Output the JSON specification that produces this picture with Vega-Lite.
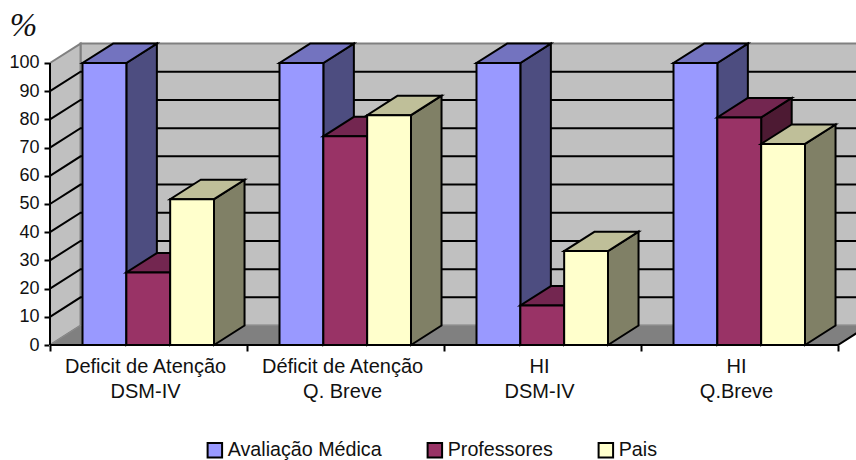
{
  "$schema": "https://vega.github.io/schema/vega-lite/v6.json",
  "width": 806,
  "height": 302,
  "padding": {"left": 50, "top": 43, "right": 0, "bottom": 115},
  "autosize": {"type": "none"},
  "background": "white",
  "config": {"view": {"stroke": null}, "font": "Liberation Sans", "axis": {"labelOverlap": false}},
  "data": {"values": [
    {"grupo": 0, "categoria": "Deficit de Atenção\nDSM-IV", "serie": "Avaliação Médica", "valor": 100},
    {"grupo": 0, "categoria": "Deficit de Atenção\nDSM-IV", "serie": "Professores", "valor": 25.7},
    {"grupo": 0, "categoria": "Deficit de Atenção\nDSM-IV", "serie": "Pais", "valor": 51.7},
    {"grupo": 1, "categoria": "Déficit de Atenção\nQ. Breve", "serie": "Avaliação Médica", "valor": 100},
    {"grupo": 1, "categoria": "Déficit de Atenção\nQ. Breve", "serie": "Professores", "valor": 74},
    {"grupo": 1, "categoria": "Déficit de Atenção\nQ. Breve", "serie": "Pais", "valor": 81.5},
    {"grupo": 2, "categoria": "HI\nDSM-IV", "serie": "Avaliação Médica", "valor": 100},
    {"grupo": 2, "categoria": "HI\nDSM-IV", "serie": "Professores", "valor": 14},
    {"grupo": 2, "categoria": "HI\nDSM-IV", "serie": "Pais", "valor": 33.3},
    {"grupo": 3, "categoria": "HI\nQ.Breve", "serie": "Avaliação Médica", "valor": 100},
    {"grupo": 3, "categoria": "HI\nQ.Breve", "serie": "Professores", "valor": 80.7},
    {"grupo": 3, "categoria": "HI\nQ.Breve", "serie": "Pais", "valor": 71.3}
  ]},
  "transform": [
    {"calculate": "indexof(['Avaliação Médica','Professores','Pais'], datum.serie)", "as": "s"},
    {"calculate": "datum.grupo + 0.165 + datum.s * 0.2225", "as": "x0"},
    {"calculate": "datum.x0 + 0.2225", "as": "x1"},
    {"calculate": "[0, 1]", "as": "t"},
    {"flatten": ["t"]},
    {"calculate": "datum.x1 + datum.t * 0.155", "as": "ladoX"},
    {"calculate": "datum.valor + datum.t * 6.9", "as": "ladoTopo"},
    {"calculate": "datum.t * 6.9", "as": "ladoBase"},
    {"calculate": "datum.x0 + datum.t * 0.155", "as": "topoX0"},
    {"calculate": "datum.x1 + datum.t * 0.155", "as": "topoX1"}
  ],
  "layer": [
    {
      "description": "Back wall",
      "data": {"values": [{"parede": "fundo"}]},
      "transform": [],
      "mark": {"type": "rect", "fill": "#c0c0c0", "stroke": "#808080", "strokeWidth": 2},
      "encoding": {
        "x": {"datum": 0.155, "type": "quantitative", "scale": {"domain": [0, 4.0914], "nice": false, "zero": false}, "axis": {"values": [0, 1, 2, 3, 4], "labels": false, "domain": false, "grid": false, "tickSize": 6, "tickWidth": 2, "tickColor": "black", "title": null}},
        "x2": {"datum": 4.155},
        "y": {
          "datum": 6.9,
          "type": "quantitative",
          "scale": {"domain": [0, 107.09], "nice": false},
          "axis": {
            "values": [0, 10, 20, 30, 40, 50, 60, 70, 80, 90, 100],
            "tickCount": 11,
            "domain": false,
            "grid": false,
            "tickSize": 6,
            "tickWidth": 2,
            "tickColor": "black",
            "labelOverlap": false,
            "labelFont": "Liberation Sans",
            "labelFontSize": 18,
            "labelColor": "#111111",
            "labelPadding": 5,
            "title": "%",
            "titleFont": "Liberation Serif",
            "titleFontStyle": "italic",
            "titleFontWeight": "normal",
            "titleFontSize": 33,
            "titleColor": "#111111",
            "titleAngle": 0,
            "titleAlign": "center",
            "titleBaseline": "middle",
            "titleX": -27,
            "titleY": -18
          }
        },
        "y2": {"datum": 106.9}
      }
    },
    {
      "description": "Left wall",
      "data": {"values": [{"t": 0}, {"t": 1}]},
      "transform": [
        {"calculate": "datum.t * 0.155", "as": "px"},
        {"calculate": "datum.t * 6.9", "as": "pbase"},
        {"calculate": "100 + datum.t * 6.9", "as": "ptopo"}
      ],
      "mark": {"type": "area", "orient": "vertical", "fill": "#c0c0c0", "stroke": "#808080", "strokeWidth": 2},
      "encoding": {
        "x": {"field": "px", "type": "quantitative"},
        "y": {"field": "ptopo", "type": "quantitative"},
        "y2": {"field": "pbase"}
      }
    },
    {
      "description": "Floor",
      "data": {"values": [{"t": 0}, {"t": 1}]},
      "transform": [
        {"calculate": "datum.t * 0.155", "as": "p0"},
        {"calculate": "4 + datum.t * 0.155", "as": "p1"},
        {"calculate": "datum.t * 6.9", "as": "py"}
      ],
      "mark": {"type": "area", "orient": "horizontal", "fill": "#808080", "stroke": "#8c8c8c", "strokeWidth": 1},
      "encoding": {
        "y": {"field": "py", "type": "quantitative"},
        "x": {"field": "p0", "type": "quantitative"},
        "x2": {"field": "p1"}
      }
    },
    {
      "description": "Gridlines running across the left and back walls",
      "data": {"values": [{"nivel": 10}, {"nivel": 20}, {"nivel": 30}, {"nivel": 40}, {"nivel": 50}, {"nivel": 60}, {"nivel": 70}, {"nivel": 80}, {"nivel": 90}]},
      "transform": [
        {"calculate": "[0, 0.155, 4.155]", "as": "gx"},
        {"flatten": ["gx"]},
        {"calculate": "datum.nivel + (datum.gx > 0 ? 6.9 : 0)", "as": "gy"}
      ],
      "mark": {"type": "line", "stroke": "black", "strokeWidth": 2},
      "encoding": {
        "x": {"field": "gx", "type": "quantitative"},
        "y": {"field": "gy", "type": "quantitative"},
        "detail": {"field": "nivel"}
      }
    },
    {
      "description": "Front edge of the floor and its right corner",
      "data": {"values": [{"ex": 0, "ey": 0}, {"ex": 4, "ey": 0}, {"ex": 4.155, "ey": 6.9}]},
      "transform": [],
      "mark": {"type": "line", "stroke": "black", "strokeWidth": 2},
      "encoding": {
        "x": {"field": "ex", "type": "quantitative"},
        "y": {"field": "ey", "type": "quantitative"}
      }
    },
    {
      "description": "Value axis line",
      "data": {"values": [{"de": 0, "ate": 100}]},
      "transform": [],
      "mark": {"type": "rule", "stroke": "black", "strokeWidth": 2},
      "encoding": {
        "x": {"datum": 0, "type": "quantitative"},
        "y": {"field": "de", "type": "quantitative"},
        "y2": {"field": "ate"}
      }
    },
    {
      "transform": [{"filter": "datum.s === 0"}],
      "mark": {"type": "area", "orient": "vertical", "fill": "#4d4d80", "stroke": "black", "strokeWidth": 2},
      "encoding": {"x": {"field": "ladoX", "type": "quantitative"}, "y": {"field": "ladoTopo", "type": "quantitative"}, "y2": {"field": "ladoBase"}, "detail": {"field": "grupo"}}
    },
    {
      "transform": [{"filter": "datum.s === 0"}],
      "mark": {"type": "area", "orient": "horizontal", "fill": "#7373bf", "stroke": "black", "strokeWidth": 2},
      "encoding": {"y": {"field": "ladoTopo", "type": "quantitative"}, "x": {"field": "topoX0", "type": "quantitative"}, "x2": {"field": "topoX1"}, "detail": {"field": "grupo"}}
    },
    {
      "transform": [{"filter": "datum.s === 0 && datum.t === 0"}],
      "mark": {"type": "rect", "stroke": "black", "strokeWidth": 2},
      "encoding": {
        "x": {"field": "x0", "type": "quantitative"},
        "x2": {"field": "x1"},
        "y": {"field": "valor", "type": "quantitative"},
        "y2": {"datum": 0},
        "fill": {
          "field": "serie",
          "type": "nominal",
          "scale": {"domain": ["Avaliação Médica", "Professores", "Pais"], "range": ["#9999ff", "#993366", "#ffffcc"]},
          "legend": {
            "title": null,
            "orient": "none",
            "direction": "horizontal",
            "columns": 3,
            "legendX": 155,
            "legendY": 397,
            "columnPadding": 41,
            "symbolType": "square",
            "symbolSize": 210,
            "symbolStrokeColor": "black",
            "symbolStrokeWidth": 2,
            "symbolOpacity": 1,
            "labelFont": "Liberation Sans",
            "labelFontSize": 19.7,
            "labelColor": "#111111",
            "labelOffset": 3,
            "labelLimit": 300
          }
        }
      }
    },
    {
      "transform": [{"filter": "datum.s === 1"}],
      "mark": {"type": "area", "orient": "vertical", "fill": "#4d1a33", "stroke": "black", "strokeWidth": 2},
      "encoding": {"x": {"field": "ladoX", "type": "quantitative"}, "y": {"field": "ladoTopo", "type": "quantitative"}, "y2": {"field": "ladoBase"}, "detail": {"field": "grupo"}}
    },
    {
      "transform": [{"filter": "datum.s === 1"}],
      "mark": {"type": "area", "orient": "horizontal", "fill": "#732650", "stroke": "black", "strokeWidth": 2},
      "encoding": {"y": {"field": "ladoTopo", "type": "quantitative"}, "x": {"field": "topoX0", "type": "quantitative"}, "x2": {"field": "topoX1"}, "detail": {"field": "grupo"}}
    },
    {
      "transform": [{"filter": "datum.s === 1 && datum.t === 0"}],
      "mark": {"type": "rect", "stroke": "black", "strokeWidth": 2},
      "encoding": {
        "x": {"field": "x0", "type": "quantitative"},
        "x2": {"field": "x1"},
        "y": {"field": "valor", "type": "quantitative"},
        "y2": {"datum": 0},
        "fill": {"field": "serie", "type": "nominal"}
      }
    },
    {
      "transform": [{"filter": "datum.s === 2"}],
      "mark": {"type": "area", "orient": "vertical", "fill": "#808066", "stroke": "black", "strokeWidth": 2},
      "encoding": {"x": {"field": "ladoX", "type": "quantitative"}, "y": {"field": "ladoTopo", "type": "quantitative"}, "y2": {"field": "ladoBase"}, "detail": {"field": "grupo"}}
    },
    {
      "transform": [{"filter": "datum.s === 2"}],
      "mark": {"type": "area", "orient": "horizontal", "fill": "#bfbf99", "stroke": "black", "strokeWidth": 2},
      "encoding": {"y": {"field": "ladoTopo", "type": "quantitative"}, "x": {"field": "topoX0", "type": "quantitative"}, "x2": {"field": "topoX1"}, "detail": {"field": "grupo"}}
    },
    {
      "transform": [{"filter": "datum.s === 2 && datum.t === 0"}],
      "mark": {"type": "rect", "stroke": "black", "strokeWidth": 2},
      "encoding": {
        "x": {"field": "x0", "type": "quantitative"},
        "x2": {"field": "x1"},
        "y": {"field": "valor", "type": "quantitative"},
        "y2": {"datum": 0},
        "fill": {"field": "serie", "type": "nominal"}
      }
    },
    {
      "description": "Category labels, two lines each, under the floor",
      "transform": [{"filter": "datum.s === 0 && datum.t === 0"}, {"calculate": "datum.grupo + 0.485", "as": "centro"}],
      "mark": {"type": "text", "font": "Liberation Sans", "fontSize": 20, "color": "#111111", "lineBreak": "\n", "lineHeight": 25, "baseline": "top", "align": "center", "dy": 12, "clip": false},
      "encoding": {
        "x": {"field": "centro", "type": "quantitative"},
        "y": {"datum": 0, "type": "quantitative"},
        "text": {"field": "categoria"}
      }
    }
  ]
}
